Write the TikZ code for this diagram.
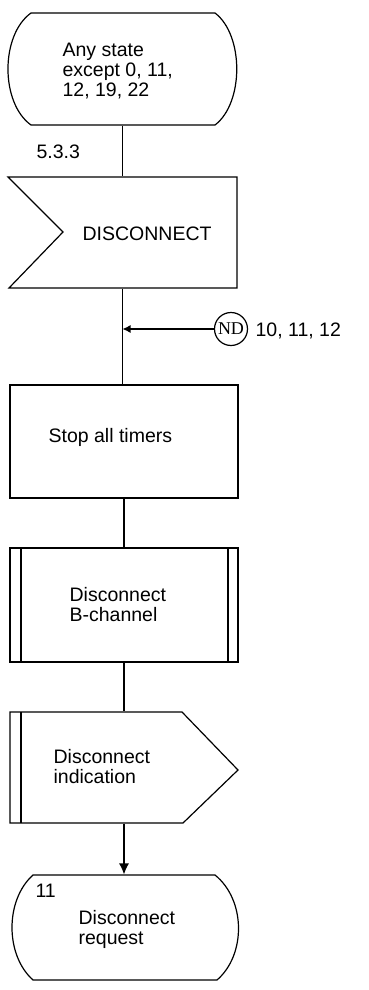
\documentclass[tikz,border=0pt]{standalone}
\usepackage{fontspec}
\setmainfont{Liberation Sans}
\newfontfamily\ndfont{Liberation Serif}
\usetikzlibrary{arrows.meta,calc}
\begin{document}
\begin{tikzpicture}[x=1pt,y=-1pt,line width=1.2pt,
  frame/.style={rectangle,draw=none,inner sep=0pt},
  txt/.style={inner sep=0pt,anchor=base west,align=left,font=\fontsize{19.5}{20}\selectfont},
  flow/.style={line width=1.2pt},
  arr/.style={line width=1.2pt,-{Latex[length=11pt,width=10pt]}},
  sarr/.style={line width=1.2pt,-{Latex[length=8pt,width=8pt]}}]
\useasboundingbox (0,0) rectangle (369,990);

% frames (named nodes covering each symbol)
\node[frame,minimum width=229pt,minimum height=112pt] (st1) at (122.5,69) {};
\node[frame,minimum width=229pt,minimum height=111pt] (in1) at (122.5,232.5) {};
\node[frame,minimum width=228pt,minimum height=113pt] (task) at (124,441.5) {};
\node[frame,minimum width=228pt,minimum height=114pt] (pp) at (124,605) {};
\node[frame,minimum width=228pt,minimum height=111pt] (out) at (124,767.5) {};
\node[frame,minimum width=227pt,minimum height=105pt] (st2) at (125.5,927.5) {};
\node[circle,draw,minimum size=33pt,inner sep=0pt,font=\ndfont\fontsize{18}{18}\selectfont] (nd) at (231,329) {ND};

% outlines
\draw (31,13) -- (215,13) .. controls (244,35) and (244,103) .. (215,125)
  -- (31,125) .. controls (0.3,103) and (0.3,35) .. (31,13) -- cycle;
\draw (8,177) -- (237,177) -- (237,288) -- (9,288) -- (63,232) -- cycle;
\draw (10,385) rectangle (238,498);
\draw (10,548) rectangle (238,662);
\draw (21,548) -- (21,662);
\draw (228,548) -- (228,662);
\draw (10,712) -- (182,712) -- (238,770) -- (183,823) -- (10,823) -- cycle;
\draw (21,712) -- (21,823);
\draw (33,875) -- (215,875) .. controls (246,900) and (246,955) .. (217,980)
  -- (33,980) .. controls (5,955) and (5,900) .. (33,875) -- cycle;

% texts (base anchor = baseline of last line)
\node[txt] (t1) at (62,96) {Any state\\except 0, 11,\\12, 19, 22};
\node[txt] (ref) at (36,158) {5.3.3};
\node[txt] (t2) at (82,240) {DISCONNECT};
\node[txt] (nl) at (255,336) {10, 11, 12};
\node[txt] (t3) at (48,442) {Stop all timers};
\node[txt] (t4) at (69,621) {Disconnect\\B-channel};
\node[txt] (t5) at (53,783) {Disconnect\\indication};
\node[txt] (n11) at (35,897) {11};
\node[txt] (t6) at (78,944) {Disconnect\\request};

% connectors
\draw[flow] (st1.south) -- (in1.north);
\draw[flow] (in1.south) -- (in1.south |- task.north);
\draw[sarr] (nd.west) -- (nd.west -| in1.south);
\draw[flow] (task.south) -- (pp.north);
\draw[flow] (pp.south) -- (out.north);
\draw[arr] (out.south) -- (out.south |- st2.north);
\end{tikzpicture}
\end{document}
